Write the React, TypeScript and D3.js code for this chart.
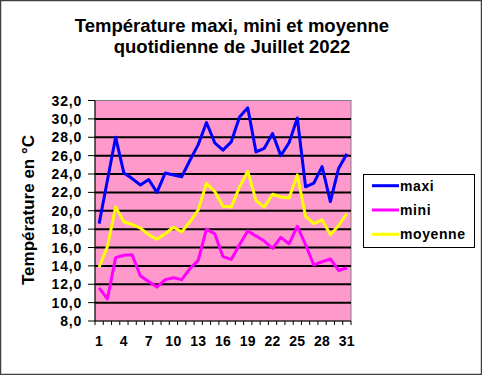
import React from "react";
import * as d3 from "d3";

const days = d3.range(1, 32);
const maxi = [18.6, 23.3, 28.0, 24.1, 23.5, 22.8, 23.4, 22.0, 24.1, 23.9, 23.7, 25.5, 27.2, 29.6, 27.4, 26.6, 27.5, 30.2, 31.2, 26.4, 26.8, 28.4, 26.0, 27.4, 30.1, 22.6, 23.0, 24.8, 21.0, 24.6, 26.2];
const mini = [11.6, 10.4, 14.9, 15.15, 15.2, 12.9, 12.3, 11.7, 12.5, 12.7, 12.5, 13.7, 14.6, 18.0, 17.5, 15.0, 14.7, 16.3, 17.8, 17.25, 16.7, 15.9, 17.1, 16.4, 18.3, 16.3, 14.1, 14.45, 14.75, 13.5, 13.8];
const moyenne = [13.85, 16.1, 20.4, 18.8, 18.5, 18.1, 17.4, 16.9, 17.5, 18.2, 17.7, 18.8, 20.1, 23.0, 22.1, 20.5, 20.4, 22.6, 24.3, 21.1, 20.4, 21.8, 21.5, 21.4, 23.9, 19.4, 18.6, 19.0, 17.4, 18.4, 19.7];
const yTicks = d3.range(8, 33, 2);
const xLabels = [1, 4, 7, 10, 13, 16, 19, 22, 25, 28, 31];
const seriesNames = ["maxi", "mini", "moyenne"];
const seriesColors = ["#0000FF", "#FF00FF", "#FFFF00"];
const seriesData = [maxi, mini, moyenne];

export default function App() {
  const W = 482, H = 375;
  const left = 95, right = 351, top = 100.5, bottom = 321;
  const x = d3.scaleBand<number>().domain(days).range([left, right]);
  const y = d3.scaleLinear().domain([8, 32]).range([bottom, top]);
  const line = d3.line<number>().x((_, i) => x(days[i])! + x.bandwidth() / 2).y((v) => y(v));
  const font = "'Liberation Sans', Arial, sans-serif";
  const boundaries = d3.range(0, 32).map((i) => left + i * x.step());
  return (
    <svg width={W} height={H} style={{ position: "absolute", left: 0, top: 0, display: "block" }} fontFamily={font}>
      <rect x={0.5} y={0.5} width={W - 1} height={H - 1} fill="#fff" stroke="#404040" strokeWidth={1.5} />
      <text x={232} y={31.5} textAnchor="middle" fontSize={18.5} fontWeight="bold">Température maxi, mini et moyenne</text>
      <text x={232} y={53} textAnchor="middle" fontSize={18.5} fontWeight="bold">quotidienne de Juillet 2022</text>
      <rect x={left} y={top} width={right - left} height={bottom - top} fill="#FF99CC" stroke="#808080" strokeWidth={1} />
      {yTicks.filter((t) => t > 8 && t < 32).map((t) => (
        <line key={t} x1={left} x2={right} y1={y(t)} y2={y(t)} stroke="#000" strokeWidth={2} />
      ))}
      <line x1={left} x2={left} y1={top} y2={bottom} stroke="#000" strokeWidth={1} />
      <line x1={left} x2={right} y1={bottom} y2={bottom} stroke="#000" strokeWidth={1} />
      {yTicks.map((t) => (
        <g key={t}>
          <line x1={left - 7} x2={left} y1={y(t)} y2={y(t)} stroke="#000" />
          <text x={82} y={y(t) + 5} textAnchor="end" fontSize={14} fontWeight="bold" letterSpacing={0.8}>{d3.format(".1f")(t).replace(".", ",")}</text>
        </g>
      ))}
      {boundaries.map((b, i) => (
        <line key={i} x1={b} x2={b} y1={bottom} y2={bottom + 4} stroke="#000" />
      ))}
      {xLabels.map((d) => (
        <text key={d} x={x(d)! + x.bandwidth() / 2} y={345.5} textAnchor="middle" fontSize={14} fontWeight="bold" letterSpacing={0.3}>{d}</text>
      ))}
      <text transform={`translate(34,210) rotate(-90)`} textAnchor="middle" fontSize={17} fontWeight="bold">Température en °C</text>
      {seriesData.map((s, i) => (
        <path key={i} d={line(s)!} fill="none" stroke={seriesColors[i]} strokeWidth={3} strokeLinejoin="round" />
      ))}
      <rect x={363.5} y={174.5} width={111} height={73} fill="#fff" stroke="#000" strokeWidth={1} />
      {seriesNames.map((n, i) => (
        <g key={n}>
          <line x1={372} x2={399} y1={185.7 + i * 24.3} y2={185.7 + i * 24.3} stroke={seriesColors[i]} strokeWidth={3} />
          <text x={400} y={190.5 + i * 24.3} fontSize={14} fontWeight="bold" letterSpacing={0.6}>{n}</text>
        </g>
      ))}
    </svg>
  );
}
